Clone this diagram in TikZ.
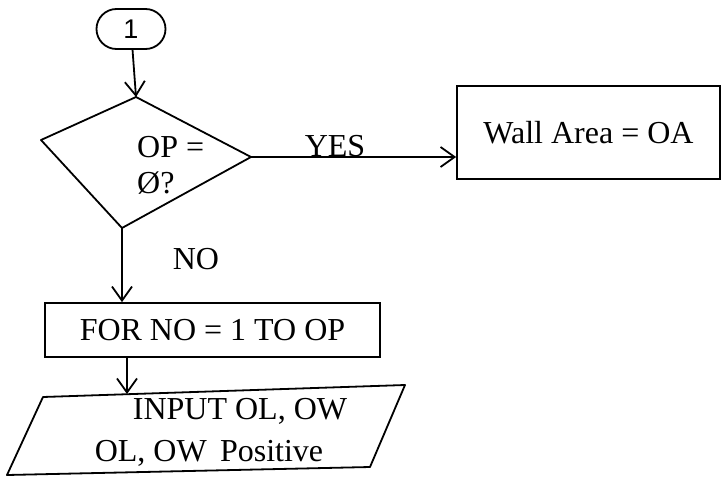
\documentclass[tikz,border=0pt]{standalone}
\usepackage{fontspec}
\setmainfont{Liberation Serif}
\newfontfamily\onefont{Liberation Sans}
\usepackage{tkz-euclide}
\usetikzlibrary{arrows.meta}

\begin{document}
\begin{tikzpicture}[%
  x = 1pt, y = -1pt,
  line/.style = {line width=1.8pt},
  box/.style = {draw, line, inner sep=0pt},
  txt/.style = {font=\fontsize{32}{36}\selectfont, inner sep=0pt},
  >={Straight Barb[length=14pt,width=20pt]},
]
  \useasboundingbox (0,0) rectangle (722,479);

  % connector
  \node[box, rounded corners=20pt, minimum width=69pt, minimum height=40pt,
        font=\onefont\fontsize{27}{30}\selectfont] (one) at (131,29) {1};

  % decision
  \tkzDefPoint(136,97){DT}
  \tkzDefPoint(41,140){DL}
  \tkzDefPoint(122,228){DB}
  \tkzDefPoint(251,157){DR}
  \tkzDrawPolygon[line](DT,DL,DB,DR)
  \node[txt, align=left, anchor=west] (ask) at (137,165) {OP =\\Ø?};

  \node[box, txt, minimum width=263pt, minimum height=93pt] (wall)
    at (588.5,132.5) {Wall Area = OA};

  \node[box, txt, minimum width=335pt, minimum height=54pt] (loop)
    at (212.5,330) {FOR NO = 1 TO OP};

  % input
  \tkzDefPoint(43,397){PTL}
  \tkzDefPoint(405,385){PTR}
  \tkzDefPoint(370,467){PBR}
  \tkzDefPoint(7,475){PBL}
  \tkzDefPoint(127,394){PIN}
  \tkzDrawPolygon[line](PTL,PTR,PBR,PBL)
  \node[txt] (inp) at (240,411) {INPUT OL, OW};
  \node[txt] (pos) at (209,453) {OL, OW\, Positive};

  \node[txt] (yes) at (335,146) {YES};
  \node[txt] (no) at (196,259) {NO};

  \draw[line, ->] (one) -- (DT);
  \draw[line, ->] (DR) -- (DR -| wall.west);
  \draw[line, ->] (DB) -- (DB |- loop.north);
  \draw[line, ->] (PIN |- loop.south) -- (PIN);
\end{tikzpicture}
\end{document}
